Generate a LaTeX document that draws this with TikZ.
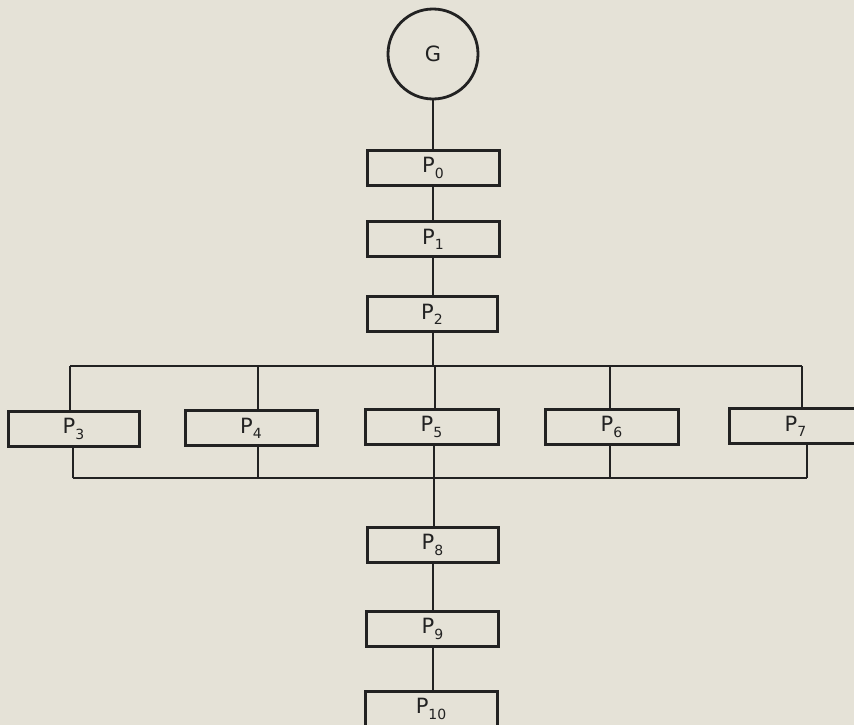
\documentclass[tikz,border=0pt]{standalone}
\usepackage{fontspec}
\setmainfont{DejaVu Sans}
\definecolor{paper}{HTML}{E5E2D7}
\definecolor{ink}{HTML}{222222}
\newcommand{\plab}[1]{P\raisebox{-0.45ex}{\fontsize{14}{14}\selectfont #1}}
\begin{document}
\begin{tikzpicture}[x=1pt,y=-1pt,
  pbox/.style={draw=ink,line width=3pt,minimum width=132pt,minimum height=35pt,inner sep=0pt,
    font=\fontsize{21}{22}\selectfont,text=ink},
  gcirc/.style={draw=ink,circle,line width=2.8pt,minimum size=90pt,inner sep=0pt,
    font=\fontsize{21}{22}\selectfont,text=ink},
  conn/.style={draw=ink,line width=2.2pt}]
\fill[paper] (0,0) rectangle (854,725);
\useasboundingbox (0,0) rectangle (854,725);
\clip (0,0) rectangle (854,725);
\node[gcirc] (G) at (433,54) {G};
\node[pbox] (P0) at (433,168) {\plab{0}};
\node[pbox] (P1) at (433,239) {\plab{1}};
\node[pbox,minimum width=130pt] (P2) at (432,314) {\plab{2}};
\node[pbox,minimum width=131pt] (P3) at (73.5,429) {\plab{3}};
\node[pbox] (P4) at (251,428) {\plab{4}};
\node[pbox,minimum width=133pt] (P5) at (431.5,427) {\plab{5}};
\node[pbox,minimum width=133pt] (P6) at (611.5,427) {\plab{6}};
\node[pbox,minimum width=133pt] (P7) at (795.5,426) {\plab{7}};
\node[pbox,minimum width=131pt] (P8) at (432.5,545) {\plab{8}};
\node[pbox] (P9) at (432.5,629) {\plab{9}};
\node[pbox] (P10) at (431,709) {\plab{10}};
\coordinate (tl) at (70,366);
\coordinate (tr) at (802,366);
\coordinate (bl) at (73,478);
\coordinate (br) at (807,478);
\draw[conn] (G) -- (G |- P0.north);
\draw[conn] (P0) -- (P0 |- P1.north);
\draw[conn] (P1) -- (P1 |- P2.north);
\draw[conn] (P2.south -| 433,0) -- (433,366);
\draw[conn] (tl) -- (tr);
\draw[conn] (tl) -- (tl |- P3.north);
\draw[conn] (P4.north -| 258,0) -- (258,366);
\draw[conn] (P5.north -| 435,0) -- (435,366);
\draw[conn] (P6.north -| 610,0) -- (610,366);
\draw[conn] (tr) -- (tr |- P7.north);
\draw[conn] (bl) -- (br);
\draw[conn] (bl) -- (bl |- P3.south);
\draw[conn] (P4.south -| 258,0) -- (258,478);
\draw[conn] (P5.south -| 434,0) -- (434,478);
\draw[conn] (P6.south -| 610,0) -- (610,478);
\draw[conn] (br) -- (br |- P7.south);
\draw[conn] (P8.north -| 434,0) -- (434,478);
\draw[conn] (P8.south -| 433,0) -- (P9.north -| 433,0);
\draw[conn] (P9.south -| 433,0) -- (P10.north -| 433,0);
\end{tikzpicture}
\end{document}
